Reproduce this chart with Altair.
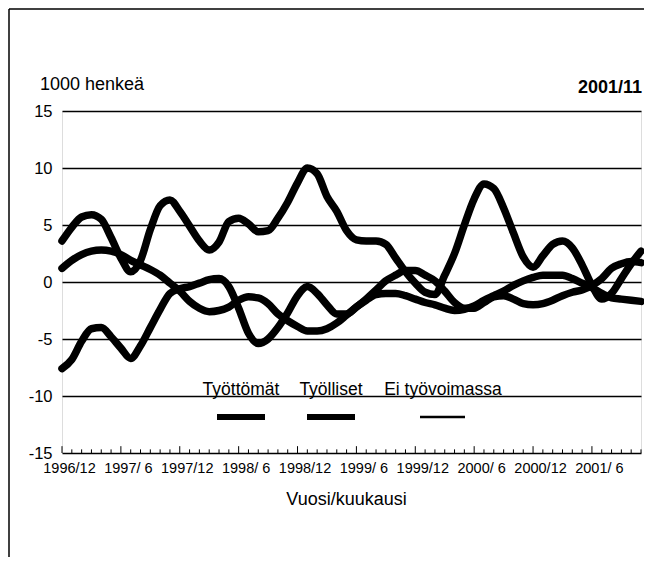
import altair as alt
import pandas as pd

# ---- data -------------------------------------------------------------
series_names = ["Työttömät", "Työlliset", "Ei työvoimassa"]

# months 1996/12 ... 2001/11 (60 months), index 0..59
month_labels = ["1996/12"] + [f"{y}/{m}" for y in range(1997, 2002) for m in range(1, 13)][:59]

tick_labels = ["1996/12", "1997/ 6", "1997/12", "1998/ 6", "1998/12",
               "1999/ 6", "1999/12", "2000/ 6", "2000/12", "2001/ 6"]

tyottomat = [-7.6, -6.8, -5.2, -4.1, -4.0, -4.8, -5.8, -6.7, -5.6, -4.0, -2.4, -1.0,
             -0.6, -0.4, -0.1, 0.2, 0.3, -0.4, -2.3, -4.5, -5.4, -5.0, -4.0, -2.7,
             -1.2, -0.4, -1.0, -2.0, -2.8, -2.8, -2.2, -1.5, -0.7, 0.1, 0.6, 1.0,
             1.0, 0.6, 0.1, -0.8, -1.8, -2.3, -2.3, -1.8, -1.3, -1.2, -1.5, -1.9,
             -2.0, -1.9, -1.6, -1.2, -0.9, -0.7, -0.3, 0.3, 1.2, 1.6, 1.8, 1.7]

tyolliset = [3.6, 4.8, 5.7, 5.9, 5.5, 3.9, 2.1, 0.9, 1.9, 4.6, 6.7, 7.2,
             6.2, 4.9, 3.6, 2.8, 3.5, 5.3, 5.6, 5.1, 4.4, 4.5, 5.6, 7.0,
             8.7, 10.0, 9.5, 7.5, 6.2, 4.5, 3.7, 3.6, 3.6, 3.3, 2.1, 0.9,
             -0.1, -0.9, -1.1, 0.6, 2.5, 5.0, 7.3, 8.6, 8.2, 6.5, 4.3, 2.2,
             1.3, 2.3, 3.3, 3.6, 3.0, 1.5, -0.3, -1.5, -1.0, 0.3, 1.6, 2.7]

ei_tyovoimassa = [1.2, 1.9, 2.4, 2.7, 2.8, 2.7, 2.4, 1.9, 1.5, 1.1, 0.6, -0.1,
                  -0.8, -1.7, -2.3, -2.6, -2.5, -2.2, -1.6, -1.3, -1.4, -1.9, -2.8, -3.4,
                  -3.9, -4.3, -4.3, -4.1, -3.6, -2.9, -2.2, -1.6, -1.1, -1.0, -1.0, -1.2,
                  -1.5, -1.8, -2.0, -2.3, -2.5, -2.4, -2.1, -1.6, -1.2, -0.8, -0.3, 0.1,
                  0.4, 0.6, 0.6, 0.6, 0.3, -0.1, -0.5, -1.0, -1.4, -1.5, -1.6, -1.7]

y_ticks = [-15, -10, -5, 0, 5, 10, 15]

# ---- tables -------------------------------------------------------------
rows = []
for name, vals in zip(series_names, [tyottomat, tyolliset, ei_tyovoimassa]):
    for i, v in enumerate(vals):
        rows.append({"month": i, "label": month_labels[i], "value": v, "series": name})
df = pd.DataFrame(rows)

ticks_df = pd.DataFrame({"month": list(range(len(month_labels)))})
ticks_df["major"] = ticks_df["month"] % 6 == 0
ticks_df["y0"] = -15
ticks_df["y1"] = ticks_df["major"].map({True: -14.4, False: -14.68})

FONT = "Liberation Sans, Arial, sans-serif"
W, H = 579, 342

label_expr = "[" + ",".join(f"'{t}'" for t in tick_labels) + "][round(datum.value/6)]"

x_scale = alt.Scale(domain=[0, len(month_labels) - 1], nice=False, zero=False)
y_scale = alt.Scale(domain=[-15, 15], nice=False)

lines = alt.Chart(df).mark_line(interpolate="monotone", color="black",
                                strokeCap="round", strokeJoin="round").encode(
    x=alt.X("month:Q", scale=x_scale,
            axis=alt.Axis(values=list(range(0, 60, 6)), labelExpr=label_expr,
                          title="Vuosi/kuukausi", grid=False, ticks=False,
                          domain=False, labelFont=FONT, labelFontSize=14.5,
                          labelOverlap=False, labelBound=False, labelFlush=False,
                          labelPadding=8, labelOffset=7, labelColor="black",
                          titleFont=FONT, titleFontSize=18, titleFontWeight="normal",
                          titleColor="black", titlePadding=16, titleX=284)),
    y=alt.Y("value:Q", scale=y_scale,
            axis=alt.Axis(values=y_ticks, title=None, grid=True, gridColor="black",
                          gridWidth=1.3, gridOpacity=1, ticks=False, domain=False,
                          labelExpr="datum.value < 0 ? '-' + abs(datum.value) : '' + datum.value",
                          labelFont=FONT, labelFontSize=16.5, labelPadding=10,
                          labelOverlap=False, labelColor="black")),
    detail="series:N",
    strokeWidth=alt.StrokeWidth("series:N",
                                scale=alt.Scale(domain=series_names, range=[7.5, 7.5, 2.5]),
                                legend=None),
)

ticks = alt.Chart(ticks_df).mark_rule(color="black", strokeWidth=1).encode(
    x=alt.X("month:Q", scale=x_scale),
    y=alt.Y("y0:Q", scale=y_scale),
    y2="y1:Q",
)

one = alt.Data(values=[{}])

def txt(text, x, y, size, align="left", weight="normal"):
    return alt.Chart(one).mark_text(text=text, font=FONT, fontSize=size, align=align,
                                    baseline="alphabetic", fontWeight=weight,
                                    color="black").encode(
        x=alt.value(x), y=alt.value(y))

def seg(x1, x2, y, w):
    return alt.Chart(one).mark_rule(color="black", strokeWidth=w).encode(
        x=alt.value(x1), x2=alt.value(x2), y=alt.value(y))

deco = [
    txt("1000 henkeä", -22, -21, 18),
    txt("2001/11", 580, -18, 18, align="right", weight="bold"),
    txt(series_names[0], 179, 284, 17.5, align="center"),
    txt(series_names[1], 269, 284, 17.5, align="center"),
    txt(series_names[2], 381, 284, 17.5, align="center"),
    seg(155, 203, 306, 6),
    seg(245, 293, 306, 6),
    seg(358, 403, 306, 2.5),
    # outer frame of the figure
    alt.Chart(one).mark_rule(color="black", strokeWidth=1.5).encode(
        x=alt.value(-53), y=alt.value(-102), y2=alt.value(446)),
    alt.Chart(one).mark_rule(color="black", strokeWidth=1.5).encode(
        x=alt.value(-53), x2=alt.value(582), y=alt.value(-102)),
]

chart = alt.layer(ticks, lines, *deco).properties(
    width=W, height=H,
    autosize=alt.AutoSizeParams(type="none"),
    padding={"left": 54, "top": 103, "right": 3, "bottom": 104},
).configure_view(stroke="black", strokeWidth=1.5).configure(background="white")

chart.save("out.html", embed_options={"renderer": "svg", "actions": False})
